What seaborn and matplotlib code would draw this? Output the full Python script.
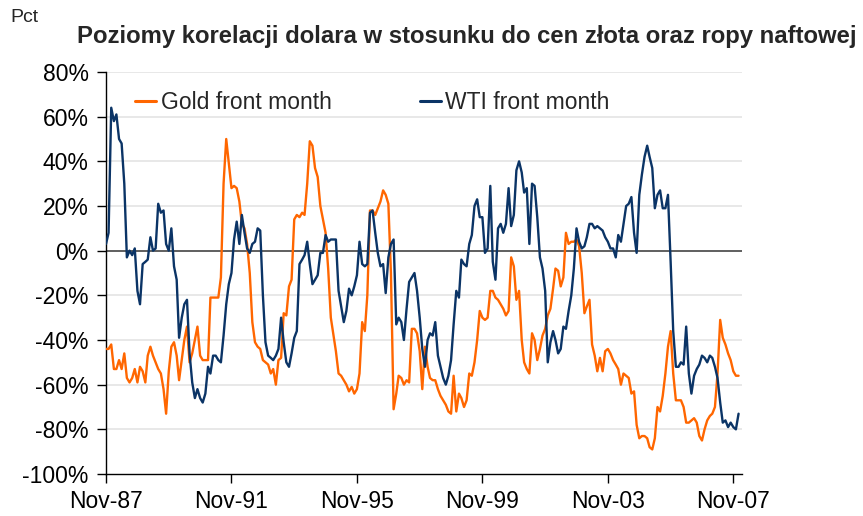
import matplotlib
matplotlib.use('Agg')
import matplotlib.pyplot as plt
import matplotlib.dates as mdates
import seaborn as sns
import pandas as pd

# Monthly correlation levels, Nov-87 .. Jan-08 (percent)
start_month = '1987-11-01'

gold = [
    -44, -44, -42, -53, -53, -49, -53, -46, -57, -59, -57, -53, -59, -52, -54, -59,
    -47, -43, -47, -50, -53, -55, -62, -73, -54, -43, -41, -47, -58, -49, -40, -34,
    -50, -46, -40, -34, -47, -49, -49, -49, -21, -21, -21, -21, -12, 30, 50, 39,
    28, 29, 28, 22, 12, 10, 3, -10, -32, -41, -43, -44, -49, -50, -51, -55,
    -53, -60, -49, -48, -28, -29, -16, -13, 14, 16, 15, 17, 16, 30, 49, 47,
    37, 33, 20, 14, 8, -8, -30, -38, -45, -55, -56, -58, -60, -63, -61, -64,
    -62, -55, -32, -36, -20, 18, 18, 16, 19, 22, 27, 25, 21, -10, -71, -64,
    -56, -57, -60, -58, -59, -35, -35, -37, -45, -62, -43, -52, -57, -58, -58, -62,
    -65, -67, -69, -72, -73, -56, -72, -64, -66, -70, -67, -55, -56, -50, -40, -27,
    -30, -31, -30, -18, -18, -21, -22, -24, -26, -29, -27, -3, -7, -22, -18, -40,
    -50, -53, -55, -37, -40, -49, -44, -38, -35, -29, -26, -17, -8, -9, -16, -12,
    8, 3, 4, 4, 5, 2, -10, -28, -25, -22, -42, -47, -54, -48, -54, -45,
    -44, -46, -49, -51, -53, -60, -55, -56, -57, -64, -63, -78, -84, -83, -83, -84,
    -88, -89, -84, -70, -72, -65, -55, -43, -36, -55, -67, -67, -67, -70, -77, -77,
    -76, -75, -77, -83, -85, -80, -76, -74, -73, -70, -55, -31, -39, -42, -46, -49,
    -54, -56, -56,
]

wti = [
    3, 8, 64, 58, 61, 50, 48, 30, -3, 0, -2, 1, -18, -24, -6, -5,
    -4, 6, 0, 1, 21, 17, 18, 3, 0, 10, -7, -13, -39, -30, -24, -22,
    -46, -59, -66, -62, -66, -68, -64, -52, -55, -47, -47, -49, -50, -38, -24, -15,
    -10, 5, 13, 3, 16, 8, 1, -1, 3, 4, 10, 9, -20, -41, -47, -48,
    -49, -47, -44, -30, -41, -50, -52, -46, -39, -36, -6, -4, -2, 4, -6, -15,
    -13, -11, -1, -1, 7, 4, 5, 5, 5, -18, -25, -32, -27, -17, -20, -16,
    -11, 4, -6, -7, -6, 17, 18, 8, -1, -7, -6, -19, -3, 3, 5, -33,
    -30, -32, -40, -26, -14, -12, -10, -18, -30, -44, -52, -40, -37, -38, -32, -47,
    -52, -57, -60, -56, -49, -33, -18, -21, -4, -6, -7, 3, 7, 20, 23, 15,
    15, -1, 1, 29, -5, -13, 10, 12, 8, 12, 28, 11, 16, 36, 40, 35,
    26, 28, 3, 30, 29, 15, -3, -8, -18, -50, -41, -36, -40, -46, -44, -34,
    -35, -27, -20, -8, 10, 4, 1, 2, 6, 12, 12, 10, 11, 10, 9, 6,
    4, 1, 1, -3, 7, 4, 12, 20, 21, 24, 8, -1, 25, 34, 42, 47,
    42, 37, 19, 25, 27, 19, 19, 25, -5, -36, -52, -52, -50, -51, -34, -55,
    -64, -56, -53, -51, -47, -48, -50, -47, -48, -52, -57, -68, -77, -76, -79, -77,
    -79, -80, -73,
]

series_names = ['Gold front month', 'WTI front month']
series_colors = ['#FF6600', '#0B3466']
tick_years = [1987, 1991, 1995, 1999, 2003, 2007]

dates = pd.date_range(start_month, periods=len(gold), freq='MS')
df = pd.DataFrame({'date': dates, series_names[0]: gold, series_names[1]: wti})
long_df = df.melt(id_vars='date', var_name='series', value_name='pct')

sns.set_theme(style='white')
plt.rcParams['font.family'] = ['Liberation Sans', 'DejaVu Sans']
plt.rcParams['axes.unicode_minus'] = False

fig = plt.figure(figsize=(8.63, 5.16), dpi=100)
ax = fig.add_axes([106 / 863, 1 - 474 / 516, 636 / 863, 402 / 516])

# light grid behind, dark zero line
for v in range(-80, 81, 20):
    ax.axhline(v, color='#e2e2e2', lw=1.1, zorder=0)
ax.axhline(0, color='#555555', lw=1.3, zorder=1)

sns.lineplot(data=long_df, x='date', y='pct', hue='series',
             palette=dict(zip(series_names, series_colors)),
             linewidth=1.7, ax=ax, legend=True, zorder=3)

ax.set_ylim(-100, 80)
ax.set_yticks(range(-100, 81, 20))
ax.yaxis.set_major_formatter(matplotlib.ticker.FuncFormatter(lambda v, p: f'{int(v)}%'))
ax.set_xlim(pd.Timestamp('1987-11-01'), pd.Timestamp('2008-02-10'))
ax.set_xticks([pd.Timestamp(f'{y}-11-01') for y in tick_years])
ax.xaxis.set_major_formatter(mdates.DateFormatter('%b-%y'))

ax.set_xlabel('')
ax.set_ylabel('')
for s in ['top', 'right']:
    ax.spines[s].set_visible(False)
for s in ['left', 'bottom']:
    ax.spines[s].set_color('black')
    ax.spines[s].set_linewidth(1.0)
ax.tick_params(axis='both', which='major', direction='out', length=6.5, width=1,
               color='black', labelsize=16.5, labelcolor='black',
               left=True, bottom=True)
ax.tick_params(axis='y', pad=6)
ax.tick_params(axis='x', pad=5)

leg = ax.legend(loc='center left', bbox_to_anchor=(29 / 636, (474 - 103) / 402),
                ncol=2, frameon=False, fontsize=16.5, handlelength=0.92,
                handletextpad=0.2, columnspacing=3.85, borderpad=0, borderaxespad=0)
for h in leg.get_lines():
    h.set_linewidth(2.2)

fig.text(10 / 863, 1 - 18 / 516, 'Pct', fontsize=14, va='center', ha='left')
fig.text(467 / 863, 1 - 37 / 516,
         'Poziomy korelacji dolara w stosunku do cen złota oraz ropy naftowej',
         fontsize=17.2, fontweight='bold', ha='center', va='center')

plt.savefig('out.png', dpi=100)
plt.close()
